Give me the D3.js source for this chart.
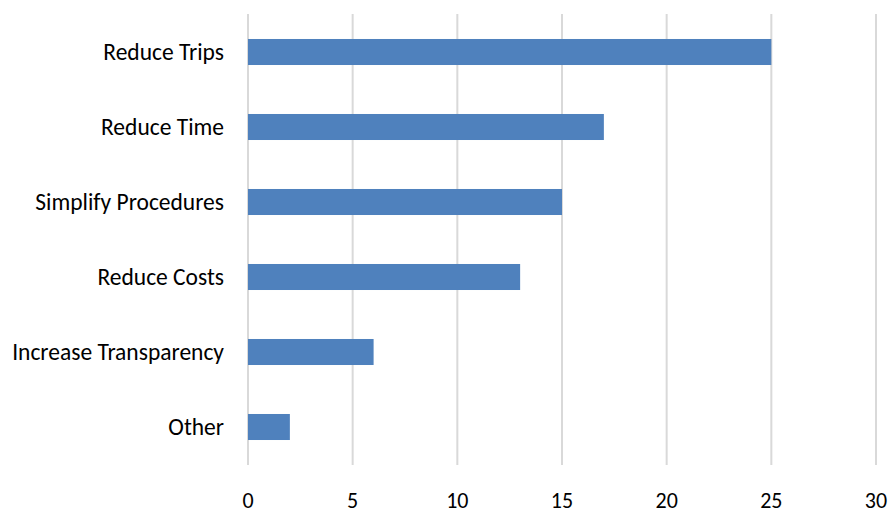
<!DOCTYPE html>
<html><head><meta charset="utf-8">
<script src="https://cdn.jsdelivr.net/npm/d3@7"></script>
<style>body{margin:0;background:#fff}svg{display:block}text{font-family:Carlito,Lato,"Open Sans",sans-serif;fill:#000}</style>
</head><body><svg id="c" width="890" height="512"></svg>
<script>
const categories = ["Reduce Trips","Reduce Time","Simplify Procedures","Reduce Costs","Increase Transparency","Other"];
const values = [25,17,15,13,6,2];
const tickValues = [0,5,10,15,20,25,30];

const svg = d3.select("#c");
const x = d3.scaleLinear().domain([0,30]).range([248,876]);
const y = d3.scaleBand().domain(categories).range([14.5,464.5]).paddingInner(0.653).paddingOuter(0.3265);

svg.append("g").selectAll("line").data(tickValues).join("line")
  .attr("x1",d=>x(d)).attr("x2",d=>x(d)).attr("y1",14).attr("y2",465)
  .attr("stroke","#d9d9d9").attr("stroke-width",2);

svg.append("g").selectAll("rect").data(values).join("rect")
  .attr("x",x(0)).attr("y",(d,i)=>y(categories[i]))
  .attr("width",d=>x(d)-x(0)).attr("height",y.bandwidth())
  .attr("fill","#4f81bd");

svg.append("g").selectAll("text").data(categories).join("text")
  .attr("x",224).attr("y",d=>y(d)+y.bandwidth()/2).attr("dy","0.35em")
  .attr("text-anchor","end").attr("font-size",23.5).text(d=>d);

svg.append("g").selectAll("text").data(tickValues).join("text")
  .attr("x",d=>x(d)).attr("y",508)
  .attr("text-anchor","middle").attr("font-size",22).text(d=>d);
</script></body></html>
